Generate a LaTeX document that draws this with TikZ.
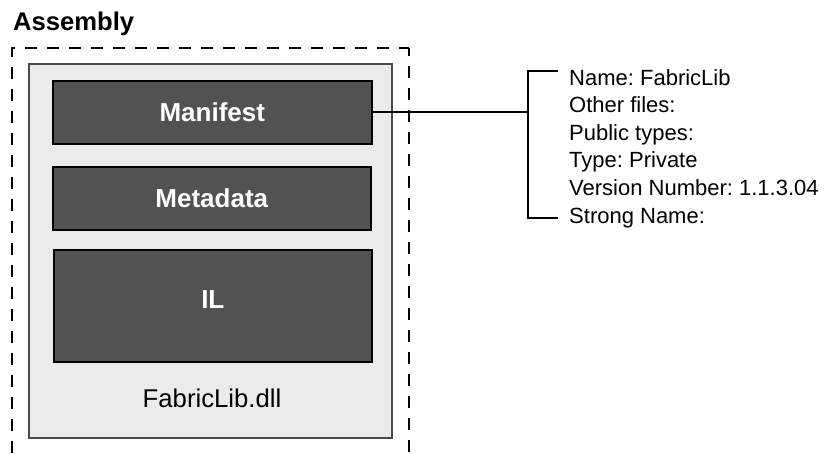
\documentclass[tikz,border=0pt]{standalone}
\usepackage{fontspec}
\setmainfont{Liberation Sans}
\frenchspacing
\definecolor{blockfill}{HTML}{525252}
\definecolor{shellfill}{HTML}{EBEBEB}
\definecolor{shellline}{HTML}{4A4A4A}
\begin{document}
\begin{tikzpicture}[x=1pt, y=-1pt,
  block/.style={draw=black, line width=1.6pt, fill=blockfill, rectangle,
    inner sep=0pt, anchor=north west},
  blocklabel/.style={text=white, font=\fontsize{26}{30}\selectfont\bfseries},
  field/.style={anchor=base west, inner sep=0pt, font=\fontsize{22}{26}\selectfont},
  boundary/.style={dash pattern=on 12pt off 10pt},
  link/.style={draw=black, line width=1.8pt}]
\useasboundingbox (0,0) rectangle (834,453);

% title
\node[anchor=base west, inner sep=0pt, font=\fontsize{25.6}{30}\selectfont\bfseries]
  (title) at (13,30.5) {Assembly};

% dashed assembly boundary (open at the bottom)
\draw[boundary, line width=2pt] (12,453) -- (12,48) -- (409,48);
\draw[boundary, line width=1.5pt, dash phase=4pt] (409,48) -- (409,453);

% the dll file
\node[draw=shellline, line width=2pt, fill=shellfill, rectangle, inner sep=0pt,
  anchor=north west, minimum width=363pt, minimum height=374pt]
  (dll) at (28,63) {};

% sections of the file
\node[block, minimum width=319pt, minimum height=63pt] (mf) at (52,80) {};
\node[blocklabel] (mftext) at (mf.center) {Manifest};
\node[block, minimum width=318pt, minimum height=63pt] (md) at (52,166) {};
\node[blocklabel] (mdtext) at (md.center) {Metadata};
\node[block, minimum width=318pt, minimum height=112pt] (il) at (53,249) {};
\node[blocklabel] (iltext) at ([yshift=6.5pt]il.center) {IL};
\node[font=\fontsize{25.7}{30}\selectfont, inner sep=0pt] (dllname) at (212,398.5) {FabricLib.dll};

% manifest contents
\node[field] (f1) at (569,85) {Name: FabricLib};
\node[field] (f2) at (569,112.6) {Other files:};
\node[field] (f3) at (569,140.2) {Public types:};
\node[field] (f4) at (569,167.8) {Type: Private};
\node[field] (f5) at (569,195.4) {Version Number: 1.1.3.04};
\node[field] (f6) at (569,223) {Strong Name:};

% bracket and connector
\coordinate (bt) at (528,71);
\coordinate (bb) at (528,218);
\coordinate (tt) at (558,71);
\coordinate (tb) at (558,218);
\draw[link] (tt) -- (bt) -- (bb) -- (tb);
\draw[link] (mf.east) -- (mf.east -| bt);
\end{tikzpicture}
\end{document}
